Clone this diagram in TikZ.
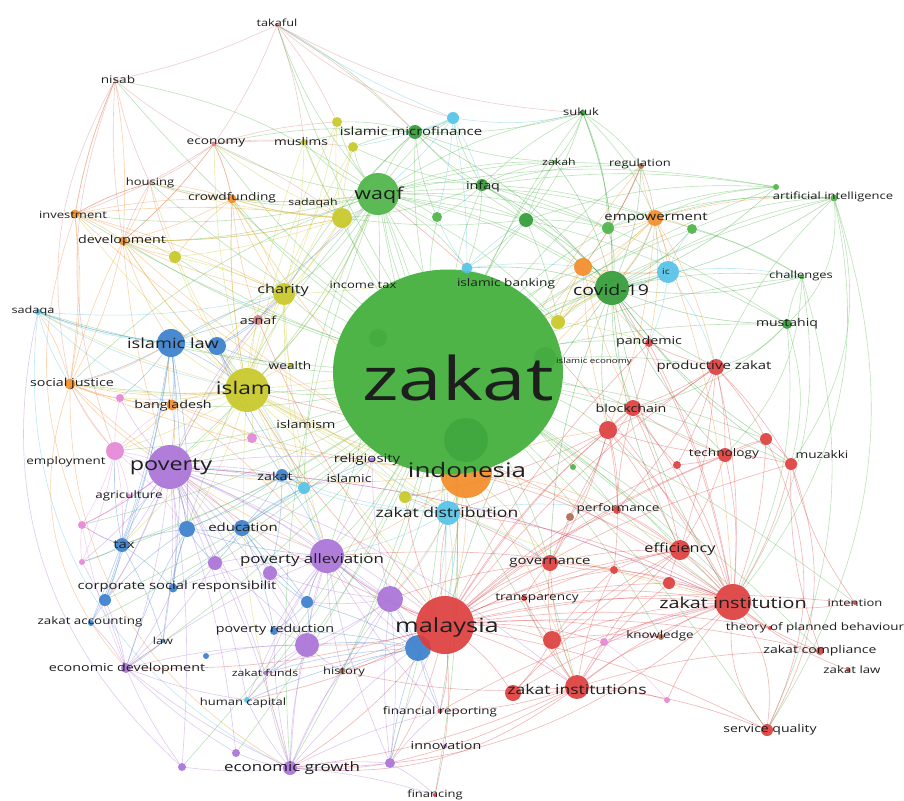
\documentclass[tikz,border=0pt]{standalone}
\usepackage{fontspec}
\setmainfont{Open Sans}[FakeStretch=1.3]
\usetikzlibrary{shapes.geometric}
\pgfdeclarelayer{bg}
\pgfdeclarelayer{edges}
\pgfsetlayers{bg,edges,main}
\definecolor{cg}{RGB}{78,180,72}
\definecolor{cgd}{RGB}{50,155,55}
\definecolor{cr}{RGB}{222,62,62}
\definecolor{cp}{RGB}{170,115,215}
\definecolor{cb}{RGB}{58,128,205}
\definecolor{cy}{RGB}{200,200,40}
\definecolor{co}{RGB}{243,140,40}
\definecolor{cc}{RGB}{85,195,232}
\definecolor{ck}{RGB}{228,135,215}
\definecolor{cl}{RGB}{215,125,125}
\definecolor{cn}{RGB}{175,110,80}
\definecolor{labc}{RGB}{30,30,30}
\tikzset{
  vn/.style={circle, inner sep=0pt, draw=none, fill=#1, fill opacity=0.92},
  lab/.style={inner sep=0pt, text=labc, anchor=center},
  ed/.style={line width=0.6pt, draw opacity=0.38, draw=#1},
}
\newcommand\VN[5]{\node[vn=#4, minimum size=#5pt] (#1) at (#2,#3) {};}
\newcommand\VL[5]{\node[lab, font=\fontsize{#4pt}{#4pt}\selectfont] (#1) at (#2,#3) {#5};}
\newcommand\VSfan[4]{\foreach \tgt in {#4} {\draw[ed=#1] (#2) to[bend left=#3] (\tgt);}}
\begin{document}
\begin{tikzpicture}[x=1pt,y=-1pt]
\useasboundingbox (0,0) rectangle (904,800);
\begin{pgfonlayer}{bg}
\fill[white] (0,0) rectangle (904,800);
\end{pgfonlayer}
% ---------- nodes ----------
\VN{indor}{466}{472}{co}{52}
\node[ellipse, inner sep=0pt, minimum width=230pt, minimum height=205pt, fill=cg] (zakat) at (448,372) {};
\node[vn=cgd, minimum size=44pt, fill opacity=0.45] (gin1) at (466,440) {};
\node[vn=cgd, minimum size=18pt, fill opacity=0.3] (gin2) at (378,338) {};
\node[vn=cgd, minimum size=22pt, fill opacity=0.3] (gin3) at (545,358) {};
% green
\VN{waqf}{378}{194}{cg}{42}
\VN{covid}{612}{288}{cgd}{34}
\VN{imf}{415}{132}{cgd}{14}
\VN{infaq}{482}{185}{cgd}{12}
\VN{g1}{437}{217}{cg}{10}
\VN{g2}{526}{220}{cgd}{14}
\VN{g3}{608}{228}{cg}{12}
\VN{g4}{692}{229}{cg}{10}
\VN{ai}{834}{198}{cg}{7}
\VN{ai2}{776}{187}{cg}{6}
\VN{must}{787}{324}{cgd}{10}
\VN{chal}{802}{277}{cg}{5}
\VN{sukuk}{583}{113}{cgd}{6}
\VN{zakah}{555}{162}{cg}{4}
\VN{g5}{573}{467}{cg}{6}
% yellow
\VN{islam}{247}{390}{cy}{44}
\VN{charity}{284}{294}{cy}{22}
\VN{sadq}{342}{218}{cy}{20}
\VN{y1}{337}{122}{cy}{10}
\VN{y2}{353}{147}{cy}{10}
\VN{muslims}{304}{142}{cy}{6}
\VN{y3}{175}{257}{cy}{12}
\VN{y4}{558}{322}{cy}{14}
\VN{y5}{405}{497}{cy}{12}
\VN{wealth}{290}{366}{cy}{5}
% orange
\VN{devel}{123}{241}{co}{9}
\VN{invest}{75}{214}{co}{9}
\VN{crowd}{232}{199}{co}{9}
\VN{socj}{70}{384}{co}{11}
\VN{bangl}{172}{405}{co}{11}
\VN{o1}{583}{267}{co}{18}
\VN{empow}{655}{218}{co}{16}
\VN{regul}{641}{166}{cn}{6}
% cyan
\VN{c1}{453}{118}{cc}{12}
\VN{ibank}{467}{268}{cc}{11}
\VN{c2}{668}{272}{cc}{22}
\VN{sadaqa}{38}{312}{cc}{6}
\VN{zdist}{448}{513}{cc}{24}
\VN{islamic}{304}{488}{cc}{12}
\VN{human}{247}{700}{cc}{6}
% blue
\VN{ilaw}{171}{343}{cb}{28}
\VN{ilaw2}{217}{346}{cb}{18}
\VN{zsmall}{282}{475}{cb}{12}
\VN{educ}{187}{529}{cb}{16}
\VN{educ2}{242}{528}{cb}{16}
\VN{tax}{122}{545}{cb}{14}
\VN{b1}{105}{600}{cb}{12}
\VN{csr}{173}{588}{cb}{9}
\VN{b2}{307}{602}{cb}{12}
\VN{b3}{418}{648}{cb}{26}
\VN{zacc}{91}{623}{cb}{6}
\VN{povred}{274}{631}{cb}{8}
\VN{b4}{206}{656}{cb}{6}
\VN{law}{163}{641}{cb}{4}
% purple
\VN{poverty}{170}{467}{cp}{44}
\VN{povall}{327}{556}{cp}{34}
\VN{p1}{390}{599}{cp}{26}
\VN{p2}{307}{645}{cp}{24}
\VN{p3}{215}{563}{cp}{14}
\VN{p4}{270}{573}{cp}{14}
\VN{p5}{252}{438}{ck}{10}
\VN{egrowth}{290}{768}{cp}{14}
\VN{econdev}{126}{668}{cp}{10}
\VN{p6}{182}{767}{cp}{8}
\VN{p7}{236}{753}{cp}{8}
\VN{innov}{390}{763}{cp}{10}
\VN{innov2}{445}{746}{cp}{4}
\VN{relig}{372}{460}{cp}{5}
\VN{zfunds}{265}{673}{cp}{4}
% pink
\VN{employ}{115}{451}{ck}{18}
\VN{k1}{120}{398}{ck}{8}
\VN{k2}{82}{525}{ck}{8}
\VN{k3}{82}{562}{ck}{6}
\VN{k4}{604}{642}{ck}{8}
\VN{k5}{667}{700}{ck}{6}
\VN{agri}{129}{496}{ck}{4}
% red
\VN{malaysia}{445}{625}{cr}{58}
\VN{zinst}{733}{602}{cr}{36}
\VN{zinsts}{577}{687}{cr}{24}
\VN{r1}{513}{693}{cr}{16}
\VN{effic}{680}{550}{cr}{20}
\VN{gov}{550}{563}{cr}{16}
\VN{r2}{552}{640}{cr}{18}
\VN{transp}{524}{598}{cr}{6}
\VN{prodz}{716}{367}{cr}{16}
\VN{block}{633}{408}{cr}{16}
\VN{r3}{608}{430}{cr}{18}
\VN{techn}{725}{455}{cr}{14}
\VN{r4}{677}{465}{cr}{8}
\VN{r5}{766}{439}{cr}{12}
\VN{muzak}{791}{464}{cr}{12}
\VN{pand}{649}{343}{cr}{8}
\VN{perf}{617}{510}{cr}{8}
\VN{r6}{570}{517}{cn}{8}
\VN{r7}{669}{583}{cr}{12}
\VN{r8}{614}{570}{cr}{8}
\VN{servq}{767}{730}{cr}{12}
\VN{zcomp}{820}{651}{cr}{8}
\VN{zlaw}{848}{670}{cr}{4}
\VN{intent}{855}{603}{cr}{4}
\VN{tpb}{770}{628}{cr}{4}
\VN{knowl}{661}{637}{cn}{6}
\VN{hist}{342}{671}{cn}{6}
\VN{finrep}{440}{711}{cr}{5}
\VN{financing}{435}{795}{cr}{4}
\VN{asnaf}{258}{320}{cl}{10}
% light red
\VN{takaful}{277}{25}{cl}{4}
\VN{nisab}{115}{80}{cl}{3}
\VN{economy}{214}{144}{cl}{5}
\VN{housing}{150}{183}{cl}{3}
% ---------- edges ----------
\begin{pgfonlayer}{edges}
\VSfan{cg}{zakat}{6}{waqf,covid,imf,infaq,g1,g2,g3,g4,ai,ai2,must,chal,sukuk,zakah,islam,charity,sadq,muslims,y3,devel,invest,crowd,socj,bangl,sadaqa,ilaw,poverty,employ,tax,educ,csr,b1,zacc,econdev,egrowth,povall,p1,p2,malaysia,zinst,zinsts,effic,gov,prodz,block,techn,muzak,pand,perf,servq,zcomp,intent,tpb,empow,regul,takaful,nisab,economy,housing,human,innov,finrep,knowl,hist,c2,o1,r5,r3,k2,k3,p6,p7,financing}
\VSfan{cg}{waqf}{10}{imf,infaq,c1,y1,y2,muslims,sadq,charity,crowd,economy,g1,g2,g3,covid,empow,o1,ibank,sukuk,zakah,islam,ilaw,devel,poverty,povall,malaysia,zdist,must,ai2,regul,takaful,housing,invest,y4}
\VSfan{cg}{waqf}{-12}{zinst,zinsts,egrowth,educ,islamic,socj,nisab}
\VSfan{cgd}{covid}{-10}{empow,g3,g4,ai,ai2,chal,must,prodz,pand,block,techn,r3,c2,o1,sukuk,zakah,infaq,g2,regul,zinst,muzak,malaysia,gov,effic,y4,ibank,imf,r5}
\VSfan{cg}{infaq}{8}{sukuk,zakah,imf,c1,g2,g3,empow,o1,ibank,g1,sadq,y2,must,ai2,regul}
\VSfan{cg}{imf}{-8}{c1,y1,y2,muslims,takaful,sukuk,zakah,g1,sadq,charity,g2,economy}
\VSfan{cg}{ai}{25}{zinst,servq,must,muzak}
\VSfan{cg}{ai}{-10}{g4,empow,covid,prodz,g3}
\VSfan{cg}{chal}{20}{zinst,techn,servq}
\VSfan{cg}{chal}{-8}{covid,must,g4,empow}
\VSfan{cg}{must}{15}{zinst,prodz,block,muzak}
\VSfan{cg}{sukuk}{10}{g2,g3,empow,zakah,covid,regul}
\VSfan{cg}{ai2}{-10}{g3,empow,g2}
\VSfan{cg}{g2}{6}{g3,zakah,o1,y4,ibank,sadq}
\VSfan{cc}{c1}{5}{ibank,infaq,waqf,imf,g1,y2,takaful}
\VSfan{cc}{c1}{-10}{sukuk}
\VSfan{cc}{zdist}{8}{malaysia,povall,p1,islamic,zsmall,relig,y5,gov,b3,perf}
\VSfan{cc}{islamic}{-8}{zsmall,relig,povall,educ2,poverty,ilaw2}
\VSfan{cc}{c2}{8}{covid,empow,o1,g4,prodz,pand,chal}
\VSfan{cc}{sadaqa}{-8}{ilaw,ilaw2,islam,socj,charity,bangl}
\VSfan{cc}{sadaqa}{-35}{egrowth}
\VSfan{cc}{ibank}{6}{g1,g2,y4,o1}
\VSfan{cr}{malaysia}{8}{zinst,zinsts,r1,effic,gov,r2,transp,prodz,block,r3,techn,perf,r7,r8,servq,zcomp,knowl,hist,finrep,innov,financing,egrowth,p1,p2,b3,povall,poverty,islam,zdist,y5,asnaf,pand,muzak,r5,r4,intent,tpb,k4,econdev,human,zfunds}
\VSfan{cr}{zinst}{-8}{zinsts,r1,effic,gov,r2,transp,prodz,block,r3,techn,r4,r5,muzak,perf,r7,r8,zcomp,zlaw,intent,tpb,knowl,k4,k5,finrep,pand}
\VSfan{cr}{zinst}{-10}{poverty,povall,islam,indor,zdist,covid,waqf}
\VSfan{cr}{zinst}{20}{servq}
\VSfan{cr}{zinst}{-20}{servq}
\VSfan{cr}{zinsts}{8}{r1,gov,r2,transp,effic,r7,r8,knowl,k5,finrep,innov,egrowth,servq,zcomp,hist}
\VSfan{cr}{effic}{-6}{gov,r7,r8,block,r3,techn,perf,prodz,r2,transp,r1}
\VSfan{cr}{prodz}{6}{block,r3,pand,techn,muzak,r5,r4,perf}
\VSfan{cr}{block}{-6}{r3,techn,r4,perf,gov,pand}
\VSfan{cr}{techn}{6}{r5,muzak,r4,r3}
\VSfan{cr}{muzak}{-10}{r5,zcomp,intent}
\VSfan{cr}{r2}{6}{gov,transp,r1,knowl,r8}
\VSfan{cr}{r3}{8}{gov,r8,perf,r6,y5,zdist}
\VSfan{cr}{gov}{-6}{transp,r8,r6,y5,p1}
\VSfan{cr}{servq}{-25}{muzak,r5}
\VSfan{cr}{egrowth}{-20}{zinst,zinsts}
\VSfan{co}{indor}{8}{effic,gov,zinsts,malaysia,zdist,poverty,povall,islam,socj,bangl,devel,invest,crowd,empow,o1,regul,covid,perf,r3,p1,b3}
\VSfan{co}{socj}{-8}{sadaqa,bangl,poverty,islam,ilaw,employ,devel,invest,k1,povall}
\VSfan{co}{socj}{-30}{econdev,egrowth}
\VSfan{co}{bangl}{8}{poverty,islam,employ,k1,p5,ilaw,povall}
\VSfan{co}{devel}{-6}{invest,crowd,housing,nisab,economy,y3,islam,charity,sadq,ilaw,poverty,socj}
\VSfan{co}{invest}{6}{crowd,housing,nisab,y3,charity,sadq,socj}
\VSfan{co}{invest}{-20}{k2}
\VSfan{co}{crowd}{-6}{economy,housing,sadq,charity,y3,asnaf,waqf,islam}
\VSfan{co}{empow}{8}{regul,g3,g4,o1,c2,covid,prodz,pand,r3,zinst,ai}
\VSfan{co}{o1}{-6}{regul,c2,y4,pand,block,r3}
\VSfan{cy}{islam}{6}{charity,asnaf,wealth,ilaw,ilaw2,sadq,y1,y2,muslims,y3,devel,invest,crowd,socj,bangl,k1,poverty,employ,p5,zsmall,islamic,relig,povall,educ,tax,malaysia,zdist,y5,economy,housing,sadaqa}
\VSfan{cy}{islam}{-10}{waqf,covid,zinst,indor,egrowth}
\VSfan{cy}{charity}{-6}{sadq,y3,asnaf,wealth,ilaw2,y1,y2,muslims,crowd,devel,poverty,povall,islamic,ibank}
\VSfan{cy}{sadq}{6}{y1,y2,muslims,y3,crowd,economy,housing,devel}
\VSfan{cy}{y4}{6}{covid,o1,pand,empow,ibank}
\VSfan{cl}{takaful}{6}{economy,muslims,nisab,imf,y1}
\VSfan{cl}{takaful}{-12}{c1,sukuk}
\VSfan{cl}{nisab}{-6}{economy,housing,invest,devel}
\VSfan{cl}{nisab}{-20}{socj,employ}
\VSfan{cl}{economy}{6}{housing,crowd,devel,invest,sadq,y1,y2,muslims}
\VSfan{cl}{housing}{-6}{invest,devel,crowd,y3}
\VSfan{cb}{ilaw}{6}{ilaw2,sadaqa,socj,islam,poverty,tax,educ,csr,b1,zacc,bangl,charity,asnaf,k1}
\VSfan{cb}{ilaw2}{-6}{charity,asnaf,wealth,islam,zsmall,islamic}
\VSfan{cb}{zsmall}{6}{poverty,educ,educ2,povall,p4,islamic}
\VSfan{cb}{educ}{-6}{educ2,tax,b1,csr,p3,poverty,povall,econdev,law}
\VSfan{cb}{educ2}{6}{p3,p4,b2,povred,csr,islamic,relig}
\VSfan{cb}{tax}{6}{b1,csr,zacc,law,employ,agri,k2,k3,poverty}
\VSfan{cb}{b3}{-6}{malaysia,p1,p2,povall,povred,b2,innov,finrep,hist,zfunds,human}
\VSfan{cb}{b2}{6}{povall,p2,p4,povred,educ2}
\VSfan{cp}{poverty}{6}{employ,agri,k1,k2,k3,tax,educ,educ2,p3,p4,p5,povall,econdev,egrowth,p6,p7,csr,b1,zacc,law,povred,zsmall,islamic,relig,human,zfunds,malaysia,p1,p2}
\VSfan{cp}{poverty}{10}{zinst,zinsts,waqf,charity}
\VSfan{cp}{povall}{-6}{p1,p2,p3,p4,b2,povred,egrowth,econdev,innov,hist,zfunds,human,finrep,b3,malaysia,relig,islamic,educ2,csr}
\VSfan{cp}{p1}{6}{p2,p4,hist,innov,zfunds,b2,relig,finrep}
\VSfan{cp}{p2}{-6}{p3,p4,povred,hist,zfunds,human,econdev,b4}
\VSfan{cp}{egrowth}{6}{p6,p7,innov,econdev,human,zfunds,p2,p1,povred,financing,malaysia,hist,finrep}
\VSfan{cp}{econdev}{-6}{p6,p7,zacc,law,b1,k3,csr,human,p3}
\VSfan{cp}{innov}{6}{financing,finrep,p1,malaysia,egrowth}
\VSfan{cp}{p6}{30}{sadaqa}
\VSfan{ck}{employ}{6}{k1,k2,k3,agri,socj,poverty,tax,bangl,educ}
\VSfan{ck}{k2}{-6}{agri,tax,k3,econdev,poverty}
\VSfan{ck}{k4}{6}{zinst,zinsts,knowl,k5}
\VSfan{cn}{regul}{6}{empow,o1,g3}
\end{pgfonlayer}
% ---------- labels ----------
\VL{Ltakaful}{277}{23}{9.8}{takaful}
\VL{Lnisab}{118}{80}{10.5}{nisab}
\VL{Leconomy}{216}{143}{10.5}{economy}
\VL{Lmuslims}{301}{142}{10.5}{muslims}
\VL{Limf}{411}{131}{11.5}{islamic microfinance}
\VL{Lsukuk}{581}{112}{10}{sukuk}
\VL{Lzakah}{559}{162}{9.5}{zakah}
\VL{Lregul}{640}{164}{10}{regulation}
\VL{Lhousing}{150}{183}{10}{housing}
\VL{Lcrowd}{232}{198}{10.5}{crowdfunding}
\VL{Lsadq}{313}{203}{9.5}{sadaqah}
\VL{Lwaqf}{379}{195}{16.5}{waqf}
\VL{Linfaq}{483}{187}{11}{infaq}
\VL{Lai}{833}{197}{10}{artificial intelligence}
\VL{Linvest}{73}{215}{10}{investment}
\VL{Lempow}{656}{218}{11.5}{empowerment}
\VL{Ldevel}{122}{241}{11}{development}
\VL{Lincome}{363}{285}{10}{income tax}
\VL{Libank}{506}{284}{10.5}{islamic banking}
\VL{Lcovid}{611}{290}{15}{covid-19}
\VL{Lcharity}{283}{290}{12.5}{charity}
\VL{Lchal}{801}{276}{10}{challenges}
\VL{Lsadaqa}{33}{311}{9.8}{sadaqa}
\VL{Lasnaf}{258}{320}{11}{asnaf}
\VL{Lmust}{787}{324}{10.8}{mustahiq}
\VL{Lpand}{649}{342}{11}{pandemic}
\VL{Lilaw}{173}{343}{14}{islamic law}
\VL{Lwealth}{290}{366}{10.5}{wealth}
\VL{Lieco}{594}{362}{7.5}{islamic economy}
\VL{Lprodz}{714}{367}{11.5}{productive zakat}
\VL{Lzakat}{458}{378}{60}{zakat}
\VL{Lsocj}{72}{384}{11}{social justice}
\VL{Lislam}{244}{388}{17.5}{islam}
\VL{Lbangl}{173}{406}{11}{bangladesh}
\VL{Lblock}{631}{408}{11}{blockchain}
\VL{Lislamism}{306}{424}{11}{islamism}
\VL{Ltechn}{724}{454}{10.5}{technology}
\VL{Lmuzak}{822}{455}{10.5}{muzakki}
\VL{Lemploy}{66}{462}{10.3}{employment}
\VL{Lpoverty}{171}{467}{18}{poverty}
\VL{Lzsmall}{275}{476}{11}{zakat}
\VL{Lrelig}{367}{460}{11.5}{religiosity}
\VL{Lislamic}{349}{478}{10.8}{islamic}
\VL{Lindo}{467}{470}{20}{indonesia}
\VL{Lagri}{129}{496}{10.3}{agriculture}
\VL{Lperf}{618}{509}{10.5}{performance}
\VL{Lzdist}{447}{512}{13.5}{zakat distribution}
\VL{Leduc}{243}{527}{11.5}{education}
\VL{Ltax}{124}{545}{11.5}{tax}
\VL{Leffic}{680}{549}{12.5}{efficiency}
\VL{Lpovall}{312}{560}{13}{poverty alleviation}
\VL{Lgov}{550}{563}{11.5}{governance}
\VL{Lcsr}{177}{587}{11.4}{corporate social responsibilit}
\VL{Ltransp}{537}{598}{10.5}{transparency}
\VL{Lzinst}{733}{603}{15.2}{zakat institution}
\VL{Lintent}{855}{603}{10}{intention}
\VL{Lzacc}{90}{622}{10.3}{zakat accounting}
\VL{Lmalaysia}{447}{627}{19.5}{malaysia}
\VL{Lpovred}{275}{630}{11}{poverty reduction}
\VL{Ltpb}{815}{628}{10.3}{theory of planned behaviour}
\VL{Lknowl}{660}{636}{10.3}{knowledge}
\VL{Llaw}{163}{641}{9.7}{law}
\VL{Lzcomp}{820}{651}{10.8}{zakat compliance}
\VL{Leconde}{127}{669}{11}{economic development}
\VL{Lzfunds}{265}{673}{9.5}{zakat funds}
\VL{Lhist}{344}{672}{10}{history}
\VL{Lzlaw}{852}{670}{10.2}{zakat law}
\VL{Lzinsts}{577}{689}{13.5}{zakat institutions}
\VL{Lhuman}{243}{703}{10}{human capital}
\VL{Lfinrep}{440}{712}{10.3}{financial reporting}
\VL{Lservq}{770}{730}{10.8}{service quality}
\VL{Linnov}{446}{746}{11}{innovation}
\VL{Legrowth}{292}{768}{13}{economic growth}
\VL{Lfinancing}{435}{795}{10}{financing}
\VL{Lic}{666}{272}{8}{ic}
\end{tikzpicture}
\end{document}
